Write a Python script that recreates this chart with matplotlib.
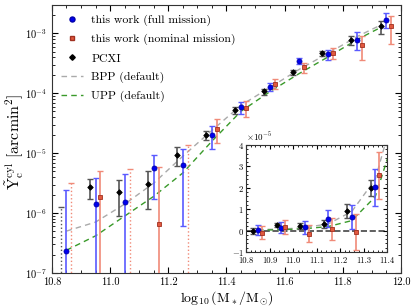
import numpy as np
import matplotlib
matplotlib.use("Agg")
import matplotlib.pyplot as plt
from matplotlib.ticker import AutoMinorLocator, LogLocator, NullFormatter
from matplotlib.lines import Line2D

plt.rcParams['font.family'] = 'serif'
plt.rcParams['font.serif'] = ['cmr10', 'DejaVu Serif']
plt.rcParams['mathtext.fontset'] = 'cm'
plt.rcParams['axes.formatter.use_mathtext'] = True
plt.rcParams['axes.unicode_minus'] = False

# stellar mass bins
mass = [10.85, 10.95, 11.05, 11.15, 11.25, 11.35, 11.45, 11.55, 11.65, 11.75, 11.85, 11.95]

# this work (full mission)
full_y = [2.36e-7, 1.43e-6, 1.52e-6, 5.63e-6, 6.3e-6, 2.03e-5, 5.9e-5, 1.30e-4, 3.47e-4, 4.47e-4, 7.85e-4, 1.70e-3]
full_err = [2.23e-6, 2.5e-6, 3.05e-6, 3.9e-6, 5.7e-6, 8.7e-6, 1.3e-5, 2.0e-5, 4.0e-5, 8.0e-5, 2.6e-4, 4.7e-4]

# this work (nominal mission)
nom_y = [-1.0e-6, 1.85e-6, -1.45e-6, 6.67e-7, -5e-7, 2.59e-5, 5.67e-5, 1.45e-4, 2.71e-4, 4.72e-4, 6.41e-4, 1.31e-3]
nom_err = [3.0e-6, 3.3e-6, 4.1e-6, 5.2e-6, 8.5e-6, 1.1e-5, 1.7e-5, 2.7e-5, 5.5e-5, 9.5e-5, 2.8e-4, 6.4e-4]
nom_upper = [3.24e-6, None, 5.54e-6, None, 1.35e-5, None, None, None, None, None, None, None]

# PCXI
pcxi_y = [-2e-7, 2.74e-6, 2.26e-6, 3.07e-6, 9.3e-6, 2.01e-5, 5.18e-5, 1.077e-4, 2.24e-4, 4.72e-4, 7.85e-4, 1.31e-3]
pcxi_err = [1.5e-6, 1.0e-6, 1.38e-6, 1.9e-6, 3.2e-6, 3.7e-6, 7e-6, 1.2e-5, 2.5e-5, 4.5e-5, 1.4e-4, 3.2e-4]
pcxi_upper = [1.26e-6, None, None, None, None, None, None, None, None, None, None, None]

# model curves (log10 Y)
model_x = [10.85, 10.95, 11.05, 11.15, 11.25, 11.35, 11.45, 11.55, 11.65, 11.75, 11.85, 11.93]
bpp_log = [-6.30, -6.15, -5.85, -5.50, -5.05, -4.62, -4.20, -3.90, -3.60, -3.33, -3.05, -2.86]
upp_log = [-6.62, -6.38, -6.05, -5.72, -5.33, -4.80, -4.30, -3.97, -3.67, -3.39, -3.10, -2.90]

n_inset = 6
YMIN, YMAX = 1e-7, 3e-3
BPP_COL, UPP_COL = '#aaaaaa', '#3a9a2a'
DASH = (0, (4, 3))

series = [
    # values, errors, upper limits, x offset, marker, face, edge, errcolor, ms
    (pcxi_y, pcxi_err, pcxi_upper, -0.02, 'D', 'black', 'black', '#555555', 2.8),
    (full_y, full_err, None, 0.0, 'o', '#0000ee', '#0000aa', '#5a5aff', 3.6),
    (nom_y, nom_err, nom_upper, 0.017, 's', '#e2583e', '#a03020', '#f08a78', 3.3),
]

fig = plt.figure(figsize=(4.15, 3.08), dpi=100)
ax = fig.add_axes([0.125, 0.1136, 0.841, 0.8704])

for vals, errs, ups, dx, mk, fc, ec, erc, ms in series:
    for i, m in enumerate(mass):
        x = m + dx
        v, e = vals[i], errs[i]
        if v > 0:
            lo = max(v - e, YMIN * 0.5)
            ax.errorbar(x, v, yerr=[[v - lo], [e]], fmt='none', ecolor=erc,
                        elinewidth=1.2, capsize=2.5, capthick=1.0, zorder=3)
            ax.plot(x, v, marker=mk, ms=ms, mfc=fc, mec=ec, mew=0.6, ls='none', zorder=4)
        else:
            up = ups[i] if ups is not None and ups[i] is not None else v + e
            ax.vlines(x, YMIN * 0.5, up, colors=erc, linestyles=':', lw=1.0, zorder=3)
            ax.plot(x, up, marker='_', ms=5, color=erc, mew=1.0, zorder=3)

mx = np.array(model_x)
ax.plot(mx, 10 ** np.array(bpp_log), ls=DASH, color=BPP_COL, lw=1.0, zorder=2)
ax.plot(mx, 10 ** np.array(upp_log), ls=DASH, color=UPP_COL, lw=1.0, zorder=2)

ax.set_yscale('log')
ax.set_xlim(10.8, 12.0)
ax.set_ylim(YMIN, YMAX)
ax.set_xticks([10.8, 11.0, 11.2, 11.4, 11.6, 11.8, 12.0])
ax.set_xticklabels(['10.8', '11.0', '11.2', '11.4', '11.6', '11.8', '12.0'])
ax.xaxis.set_minor_locator(AutoMinorLocator(4))
ax.yaxis.set_minor_locator(LogLocator(base=10, subs=np.arange(2, 10)))
ax.yaxis.set_minor_formatter(NullFormatter())
ax.tick_params(which='both', direction='in', top=True, right=True, labelsize=7.5)
ax.tick_params(which='major', length=4)
ax.tick_params(which='minor', length=2)
ax.set_xlabel(r'$\log_{10}(\mathrm{M}_*/\mathrm{M}_{\odot})$', fontsize=10)
ax.xaxis.set_label_coords(0.5, -0.062)
ax.set_ylabel(r'$\tilde{\mathrm{Y}}_{\mathrm{c}}^{\mathrm{cyl}}\ [\mathrm{arcmin}^2]$', fontsize=11.5)
ax.yaxis.set_label_coords(-0.075, 0.49)
for sp in ax.spines.values():
    sp.set_color('#333333')

handles = [
    Line2D([], [], marker='o', ls='none', ms=3.6, mfc='#0000ee', mec='#0000aa'),
    Line2D([], [], marker='s', ls='none', ms=3.3, mfc='#e2583e', mec='#a03020'),
    Line2D([], [], marker='D', ls='none', ms=2.8, color='black'),
    Line2D([], [], ls=DASH, color=BPP_COL, lw=1.0),
    Line2D([], [], ls=DASH, color=UPP_COL, lw=1.0),
]
labels = ['this work (full mission)', 'this work (nominal mission)', 'PCXI',
          'BPP (default)', 'UPP (default)']
ax.legend(handles, labels, loc='upper left', frameon=False, fontsize=8.5,
          handlelength=1.8, handletextpad=0.75, labelspacing=0.68,
          borderaxespad=0.4, borderpad=0.4, numpoints=1)

# inset in linear units of 1e-5
ins = fig.add_axes([0.593, 0.1818, 0.3395, 0.3472])
for vals, errs, ups, dx, mk, fc, ec, erc, ms in series:
    xs = np.array(mass[:n_inset]) + dx
    ys = np.array(vals[:n_inset])
    es = np.array(errs[:n_inset])
    ins.errorbar(xs, ys, yerr=es, fmt='none', ecolor=erc, elinewidth=1.2,
                 capsize=2.5, capthick=1.0, zorder=3)
    ins.plot(xs, ys, marker=mk, ms=ms, mfc=fc, mec=ec, mew=0.6, ls='none', zorder=4)
ins.plot(mx, 10 ** np.array(bpp_log), ls=DASH, color=BPP_COL, lw=1.0, zorder=2)
ins.plot(mx, 10 ** np.array(upp_log), ls=DASH, color=UPP_COL, lw=1.0, zorder=2)
ins.axhline(0, ls='--', color='#444444', lw=1.2, zorder=1)
ins.set_xlim(10.8, 11.4)
ins.set_ylim(-1e-5, 4e-5)
ins.set_xticks([10.8, 10.9, 11.0, 11.1, 11.2, 11.3, 11.4])
ins.set_xticklabels(['10.8', '10.9', '11.0', '11.1', '11.2', '11.3', '11.4'])
ins.ticklabel_format(axis='y', style='sci', scilimits=(0, 0))
ins.yaxis.get_offset_text().set_fontsize(6.5)
ins.xaxis.set_minor_locator(AutoMinorLocator(5))
ins.yaxis.set_minor_locator(AutoMinorLocator(5))
ins.tick_params(which='both', direction='in', top=True, right=True, labelsize=6.3)
ins.tick_params(axis='x', pad=3)
ins.tick_params(axis='y', pad=1.5)
ins.tick_params(which='major', length=3)
ins.tick_params(which='minor', length=1.5)
for sp in ins.spines.values():
    sp.set_color('#333333')

fig.savefig('out.png', dpi=100)
